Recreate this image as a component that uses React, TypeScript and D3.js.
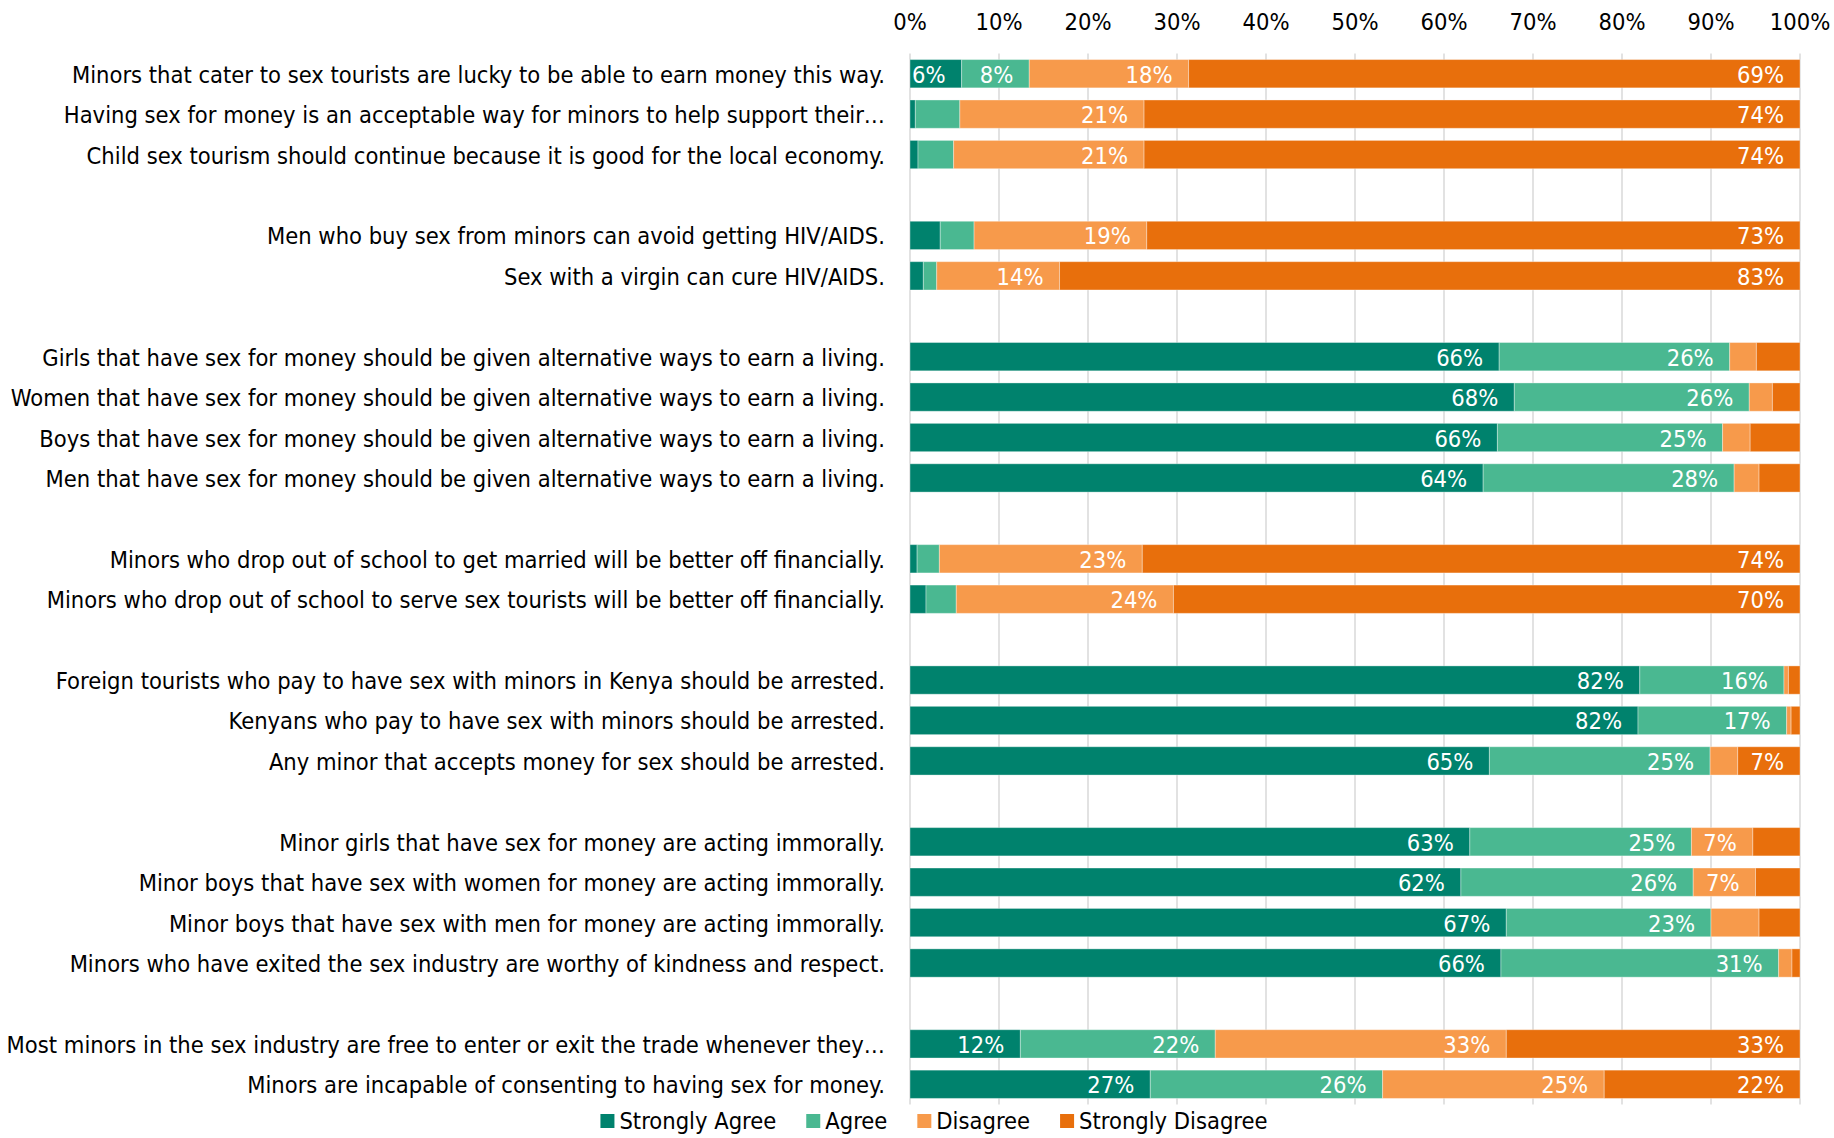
import React, { useEffect, useRef } from "react";
import * as d3 from "d3";

const categories = [
  "Minors that cater to sex tourists are lucky to be able to earn money this way.",
  "Having sex for money is an acceptable way for minors to help support their\u2026",
  "Child sex tourism should continue because it is good for the local economy.",
  "Men who buy sex from minors can avoid getting HIV/AIDS.",
  "Sex with a virgin can cure HIV/AIDS.",
  "Girls that have sex for money should be given alternative ways to earn a living.",
  "Women that have sex for money should be given alternative ways to earn a living.",
  "Boys that have sex for money should be given alternative ways to earn a living.",
  "Men that have sex for money should be given alternative ways to earn a living.",
  "Minors who drop out of school to get married will be better off financially.",
  "Minors who drop out of school to serve sex tourists will be better off financially.",
  "Foreign tourists who pay to have sex with minors in Kenya should be arrested.",
  "Kenyans who pay to have sex with minors should be arrested.",
  "Any minor that accepts money for sex should be arrested.",
  "Minor girls that have sex for money are acting immorally.",
  "Minor boys that have sex with women for money are acting immorally.",
  "Minor boys that have sex with men for money are acting immorally.",
  "Minors who have exited the sex industry are worthy of kindness and respect.",
  "Most minors in the sex industry are free to enter or exit the trade whenever they\u2026",
  "Minors are incapable of consenting to having sex for money.",
];

// number of statements in each visual group (gaps between groups)
const groupSizes = [3, 2, 4, 2, 3, 4, 2];

const seriesNames = ["Strongly Agree", "Agree", "Disagree", "Strongly Disagree"];
const seriesColors = ["#00826D", "#4AB891", "#F79A4B", "#E86F0C"];

const stronglyAgree = [5.8, 0.6, 0.9, 3.4, 1.5, 66.2, 67.9, 66.0, 64.4, 0.8, 1.8, 82.0, 81.8, 65.1, 62.9, 61.9, 67.0, 66.4, 12.4, 27.0];
const agree = [7.6, 5.0, 4.0, 3.8, 1.5, 25.9, 26.4, 25.3, 28.2, 2.5, 3.4, 16.2, 16.7, 24.8, 24.9, 26.1, 23.0, 31.2, 21.9, 26.1];
const disagree = [17.9, 20.7, 21.4, 19.4, 13.8, 3.0, 2.6, 3.1, 2.8, 22.8, 24.4, 0.5, 0.5, 3.1, 6.9, 7.0, 5.4, 1.5, 32.7, 24.9];
const stronglyDisagree = [68.7, 73.7, 73.7, 73.4, 83.2, 4.9, 3.1, 5.6, 4.6, 73.9, 70.4, 1.3, 1.0, 7.0, 5.3, 5.0, 4.6, 0.9, 33.0, 22.0];

const xTicks = [0, 10, 20, 30, 40, 50, 60, 70, 80, 90, 100];

const W = 1834;
const H = 1138;
const FONT = "'DejaVu Sans Condensed', 'DejaVu Sans', sans-serif";
const FS = 23.5;

export default function App() {
  const ref = useRef<SVGSVGElement | null>(null);

  useEffect(() => {
    const svg = d3.select(ref.current);
    svg.selectAll("*").remove();

    const slots: string[] = [];
    let idx = 0;
    groupSizes.forEach((g, gi) => {
      for (let k = 0; k < g; k++) slots.push("c" + idx++);
      if (gi < groupSizes.length - 1) slots.push("gap" + gi);
    });

    const x = d3.scaleLinear().domain([0, 100]).range([910, 1800]);
    const y = d3
      .scaleBand<string>()
      .domain(slots)
      .range([53.5, 1104.5])
      .paddingInner(0.3)
      .paddingOuter(0.15);

    svg
      .append("g")
      .selectAll("line")
      .data(xTicks)
      .join("line")
      .attr("x1", (d) => x(d))
      .attr("x2", (d) => x(d))
      .attr("y1", 53.5)
      .attr("y2", 1104.5)
      .attr("stroke", "#d9d9d9")
      .attr("stroke-width", 1.5);

    svg
      .append("g")
      .selectAll("text")
      .data(xTicks)
      .join("text")
      .attr("x", (d) => x(d))
      .attr("y", 22)
      .attr("text-anchor", "middle")
      .attr("dominant-baseline", "central")
      .attr("font-family", FONT)
      .attr("font-size", FS)
      .attr("fill", "#000")
      .text((d) => d + "%");

    const series = [stronglyAgree, agree, disagree, stronglyDisagree];
    const rows = categories.map((c, i) => {
      let acc = 0;
      return series.map((s, si) => {
        const seg = { si, x0: acc, x1: acc + s[i], v: s[i], i };
        acc += s[i];
        return seg;
      });
    });

    const rowG = svg
      .append("g")
      .selectAll("g")
      .data(rows)
      .join("g")
      .attr("transform", (_, i) => `translate(0,${y("c" + i)})`);

    rowG
      .selectAll("rect")
      .data((d) => d)
      .join("rect")
      .attr("x", (d) => x(d.x0))
      .attr("width", (d) => x(d.x1) - x(d.x0))
      .attr("y", 0)
      .attr("height", y.bandwidth())
      .attr("fill", (d) => seriesColors[d.si])
      .attr("stroke", "rgba(255,255,255,0.35)")
      .attr("stroke-width", 1);

    rowG
      .selectAll("text")
      .data((d) => d.filter((s) => s.v >= 5.7))
      .join("text")
      .attr("x", (d) => x(d.x1) - 16)
      .attr("y", y.bandwidth() / 2 + 1)
      .attr("text-anchor", "end")
      .attr("dominant-baseline", "central")
      .attr("font-family", FONT)
      .attr("font-size", FS)
      .attr("fill", "#fff")
      .text((d) => Math.round(d.v) + "%");

    svg
      .append("g")
      .selectAll("text")
      .data(categories)
      .join("text")
      .attr("x", 885)
      .attr("y", (_, i) => (y("c" + i) as number) + y.bandwidth() / 2 + 1)
      .attr("text-anchor", "end")
      .attr("dominant-baseline", "central")
      .attr("font-family", FONT)
      .attr("font-size", FS)
      .attr("fill", "#000")
      .text((d) => d);

    const lg = svg.append("g");
    const items = lg.selectAll("g").data(seriesNames).join("g");
    items
      .append("rect")
      .attr("width", 14)
      .attr("height", 14)
      .attr("y", -7)
      .attr("fill", (_, i) => seriesColors[i]);
    items
      .append("text")
      .attr("x", 19)
      .attr("y", 0)
      .attr("dominant-baseline", "central")
      .attr("font-family", FONT)
      .attr("font-size", FS)
      .attr("fill", "#000")
      .text((d) => d);
    const widths: number[] = [];
    items.each(function () {
      const t = (this as SVGGElement).querySelector("text") as SVGTextElement;
      widths.push(19 + t.getComputedTextLength());
    });
    const gap = 30;
    const total = d3.sum(widths) + gap * (widths.length - 1);
    let cx = 934 - total / 2;
    items.attr("transform", (_, i) => {
      const t = `translate(${cx},1121)`;
      cx += widths[i] + gap;
      return t;
    });
  }, []);

  return (
    <svg
      ref={ref}
      width={W}
      height={H}
      style={{ position: "absolute", left: 0, top: 0, background: "#fff" }}
    />
  );
}
